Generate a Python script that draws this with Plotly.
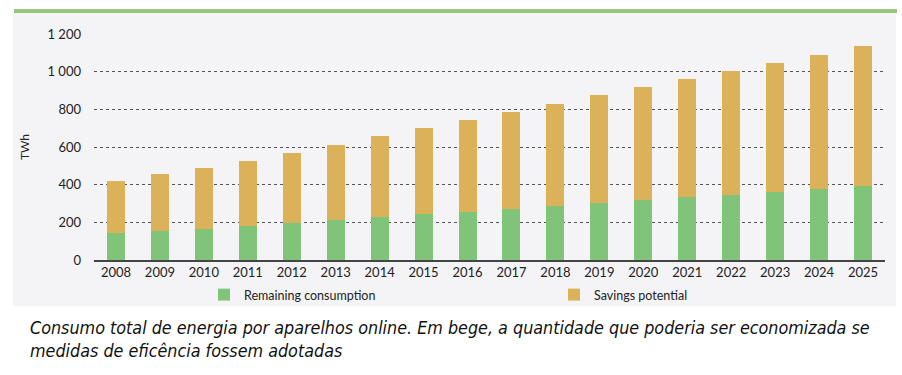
import plotly.graph_objects as go

years = [str(y) for y in range(2008, 2026)]
remaining = [145, 155, 166, 182, 198, 210, 230, 245, 256, 272, 288, 304, 320, 336, 346, 362, 378, 394]
savings = [276, 303, 324, 345, 371, 402, 429, 458, 488, 514, 541, 572, 599, 625, 658, 685, 711, 743]
y_ticks = [0, 200, 400, 600, 800, 1000, 1200]

GREEN = "#80c47a"
GOLD = "#dbb25a"
FONT = "Lato, Open Sans, sans-serif"

fig = go.Figure()
fig.add_trace(go.Bar(x=years, y=remaining, name="Remaining consumption",
                     marker=dict(color=GREEN, line=dict(width=0)), legend="legend"))
fig.add_trace(go.Bar(x=years, y=savings, name="Savings potential",
                     marker=dict(color=GOLD, line=dict(width=0)), legend="legend2"))

W, H = 902, 375
L, R, T, B = 94, 17, 34, 115
pw, ph = W - L - R, H - T - B

def px_x(x):
    return (x - L) / pw

def px_y(y):
    return (H - B - y) / ph

leg_common = dict(orientation="h", xanchor="left", yanchor="middle",
                  font=dict(family=FONT, size=12.5, color="#222"),
                  bgcolor="rgba(0,0,0,0)", itemwidth=30)

fig.update_layout(
    width=W, height=H,
    margin=dict(l=L, r=R, t=T, b=B, autoexpand=False),
    barmode="stack",
    bargap=0.59,
    paper_bgcolor="white",
    plot_bgcolor="rgba(0,0,0,0)",
    separators=", ",
    font=dict(family=FONT, size=13, color="#222"),
    showlegend=True,
    legend=dict(x=px_x(204), y=px_y(295), **leg_common),
    legend2=dict(x=px_x(554), y=px_y(295), **leg_common),
    xaxis=dict(showgrid=False, showline=True, linecolor="#444", linewidth=1.5,
               ticks="", tickfont=dict(size=13, color="#222")),
    yaxis=dict(range=[0, 1200], tickvals=y_ticks, tickformat=",",
               showgrid=True, gridcolor="#555", griddash="dot", gridwidth=1,
               zeroline=False, ticks="", ticklabelstandoff=12,
               tickfont=dict(size=13, color="#222"),
               title=dict(text="TWh", font=dict(size=12, color="#222"), standoff=15)),
    shapes=[
        dict(type="rect", xref="paper", yref="paper", layer="below",
             x0=px_x(13), x1=px_x(896), y0=px_y(306), y1=px_y(13),
             fillcolor="#f4f4f6", line=dict(width=0)),
        dict(type="line", xref="paper", yref="paper", layer="below",
             x0=px_x(14), x1=px_x(897), y0=px_y(11), y1=px_y(11),
             line=dict(color="#97c47f", width=4)),
    ],
    annotations=[
        dict(text="<i>Consumo total de energia por aparelhos online. Em bege, a quantidade que poderia ser economizada se<br>medidas de eficência fossem adotadas</i>",
             xref="paper", yref="paper", x=px_x(28), y=px_y(315),
             xanchor="left", yanchor="top", align="left", showarrow=False,
             font=dict(family="DejaVu Sans Condensed, sans-serif", size=17.8, color="#111")),
    ],
)

fig.write_html("out.html", config={"displayModeBar": False},
               post_script="document.body.style.margin='0';document.body.style.padding='0';")
